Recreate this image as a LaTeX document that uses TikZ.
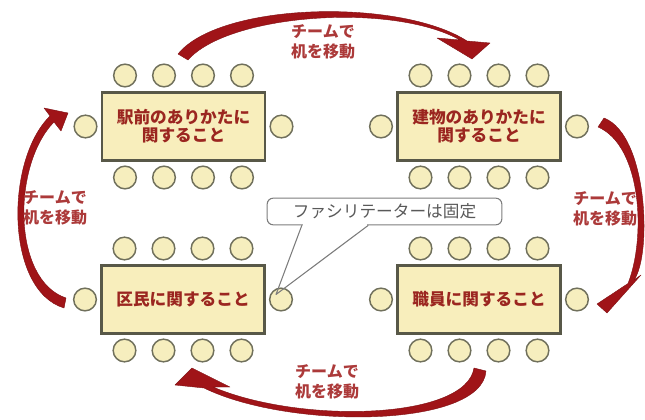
\documentclass[tikz,border=0pt]{standalone}
\usepackage{fontspec}
\setmainfont{Noto Sans CJK JP}
\usepackage{xcolor}
\definecolor{tablefill}{RGB}{248,238,188}
\definecolor{tableline}{RGB}{88,88,72}
\definecolor{chairfill}{RGB}{246,238,190}
\definecolor{chairline}{RGB}{112,112,92}
\definecolor{movered}{RGB}{160,20,24}
\definecolor{tabletext}{RGB}{155,38,32}
\definecolor{movetext}{RGB}{172,58,58}
\definecolor{notegray}{RGB}{125,125,125}
\usepackage{tikz}

\begin{document}
\begin{tikzpicture}[x=0.75pt, y=-0.75pt,
    table/.style={rectangle, draw=tableline, fill=tablefill, line width=1.8pt, minimum width=122pt, minimum height=51pt, inner sep=2pt, align=center, text=tabletext, font=\fontsize{12.5}{13.5}\selectfont\bfseries},
    chair/.style={circle, draw=chairline, fill=chairfill, line width=1.1pt, minimum size=17pt, inner sep=0pt},
    movelabel/.style={align=center, text=movetext, font=\fontsize{12}{15.5}\selectfont\bfseries},
    movearrow/.style={fill=movered, draw=movered!80!black, line width=0.3pt, line join=round},
    memo/.style={rectangle, rounded corners=4.5pt, draw=notegray, fill=white, line width=0.8pt, minimum width=176pt, minimum height=20pt, text=black!65, font=\fontsize{12.5}{14}\selectfont}
  ]
    \useasboundingbox (0,0) rectangle (645,420);

    \node[table] (station) at (183.5,126.5) {駅前のありかたに\\関すること};
    \node[table] (building) at (479,126.5) {建物のありかたに\\関すること};
    \node[table] (citizen) at (183,299.5) {区民に関すること};
    \node[table] (staff) at (479,299.5) {職員に関すること};

    % chairs round each table
    \foreach \desk in {station, building, citizen, staff} {
      \foreach \dx [count=\i] in {-58.5,-19.5,19.5,58.5} {
        \node[chair] (\desk-n\i) at ([shift={(\dx,-51)}]\desk.center) {};
        \node[chair] (\desk-s\i) at ([shift={(\dx,51)}]\desk.center) {};
      }
      \node[chair] (\desk-w) at ([shift={(-98,0)}]\desk.center) {};
      \node[chair] (\desk-e) at ([shift={(98,0)}]\desk.center) {};
    }

    % moving arrows
    \fill[movearrow] (178,54) .. controls (220,2) and (400,-2) .. (467,41) -- (490,43) -- (472,59) -- (437,38) -- (460,40) .. controls (392,2) and (228,14) .. (188,60) -- cycle;
    \fill[movearrow] (604,118) .. controls (648,135) and (652,255) .. (634,280) -- (641,275) -- (607,313) -- (597,304) -- (628,283.5) .. controls (646,238) and (642,146) .. (598,127) -- cycle;
    \fill[movearrow] (486,371) .. controls (482,428) and (290,430) .. (204,388) -- (175,385) -- (192,368) -- (230,387) -- (213,387) .. controls (300,424) and (466,420) .. (474,368) -- cycle;
    \fill[movearrow] (64,308) .. controls (5,290) and (5,160) .. (50,116) -- (44,108) -- (68,113) -- (61,131) -- (54,122) .. controls (12,165) and (12,280) .. (66,298) -- cycle;

    \node[movelabel] (moveTop) at (323,42) {チームで\\机を移動};
    \node[movelabel] (moveRight) at (605,209) {チームで\\机を移動};
    \node[movelabel] (moveBottom) at (327,382) {チームで\\机を移動};
    \node[movelabel] (moveLeft) at (55,208) {チームで\\机を移動};

    % facilitator note
    \node[memo] (fixnote) at (384.5,211.5) {ファシリテーターは固定};
    \coordinate (pin) at ([shift={(-5,-5)}]citizen-e.center);
    \fill[white] ([xshift=-61.4pt, yshift=-0.8pt]fixnote.south) rectangle ([xshift=-12.8pt, yshift=0.8pt]fixnote.south);
    \draw[notegray, line width=0.8pt, line join=round] ([xshift=-62pt]fixnote.south) -- (pin) -- ([xshift=-12.2pt]fixnote.south);
  \end{tikzpicture}
\end{document}
